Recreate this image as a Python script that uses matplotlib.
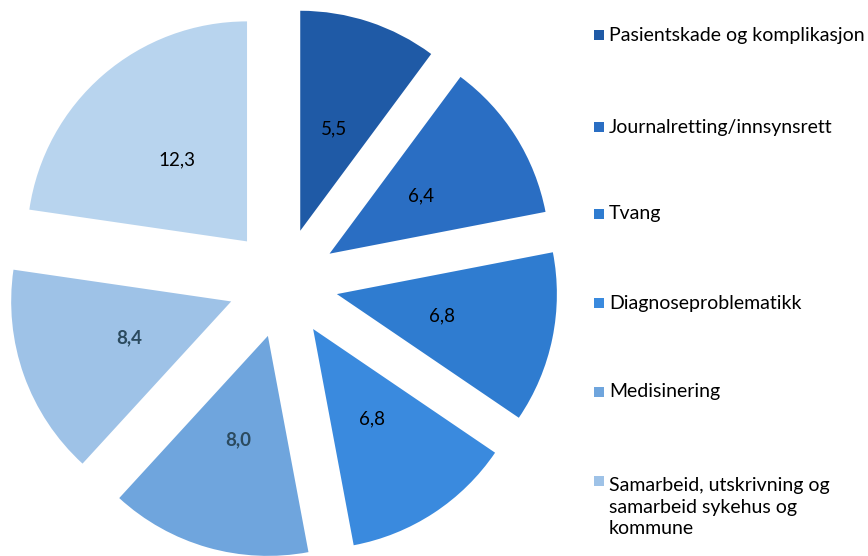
import matplotlib.pyplot as plt
from matplotlib.patches import Rectangle
import numpy as np

plt.rcParams['font.family'] = ['Lato', 'DejaVu Sans']

# saker per kategori (prosent)
values = [5.5, 6.4, 6.8, 6.8, 8.0, 8.4, 12.3]
categories = ['Pasientskade og komplikasjon',
              'Journalretting/innsynsrett',
              'Tvang',
              'Diagnoseproblematikk',
              'Medisinering',
              'Samarbeid, utskrivning og\nsamarbeid sykehus og\nkommune']
colors = ['#1f5aa6', '#2a6ec3', '#2f7cd0', '#3a8ade', '#6fa5dd', '#9ec2e7', '#b8d4ee']

W, H = 868, 556
fig = plt.figure(figsize=(W / 100, H / 100), dpi=100)
ax = fig.add_axes([0, 0, 1, 1])

R = 220
# explode is an absolute offset in data units here
wedges, _ = ax.pie(values, colors=colors, startangle=90, counterclock=False,
                   explode=[55] * len(values), radius=R, center=(283, H - 283),
                   wedgeprops=dict(linewidth=0))
ax.set_xlim(0, W)
ax.set_ylim(0, H)
ax.axis('off')

# value labels inside each wedge, halfway out along the bisector
for w, v in zip(wedges, values):
    mid = np.deg2rad((w.theta1 + w.theta2) / 2)
    cx, cy = w.center
    x = cx + 0.49 * R * np.cos(mid)
    y = cy + 0.49 * R * np.sin(mid)
    bold = v in (8.0, 8.4)
    ax.text(x, y, f'{v:.1f}'.replace('.', ','), ha='center', va='center',
            fontsize=13.5, color='#2b4a5e' if bold else 'black',
            fontweight='bold' if bold else 'normal')

# legend on the right
leg_y = [35, 127, 214, 303, 392, 481]
for name, col, ly in zip(categories, colors, leg_y):
    yy = H - ly
    ax.add_patch(Rectangle((594, yy - 5), 10, 10, color=col, lw=0))
    n = name.count('\n')
    ax.text(609, yy - n * 13, name, ha='left', va='center', fontsize=14,
            linespacing=1.3, color='black')

fig.savefig('out.png', dpi=100)
